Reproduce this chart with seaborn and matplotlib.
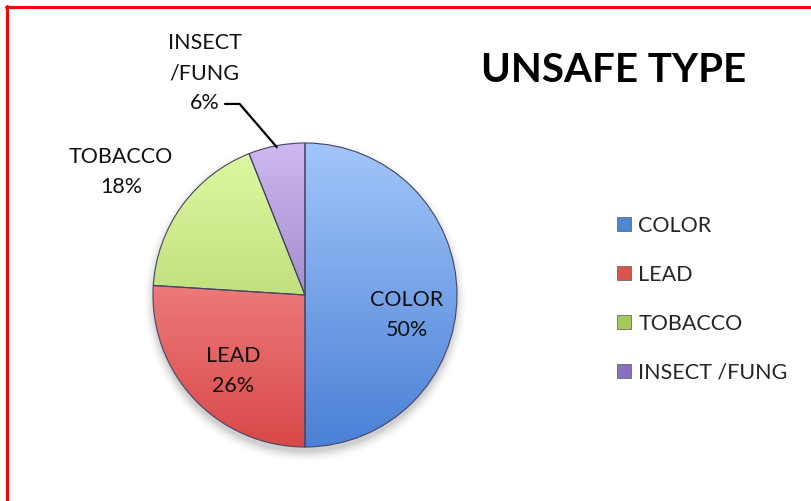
import numpy as np
import matplotlib
matplotlib.use("Agg")
import matplotlib.pyplot as plt
import matplotlib.colors as mcolors
from matplotlib.lines import Line2D
import seaborn as sns

# ---- data ----
categories = ["COLOR", "LEAD", "TOBACCO", "INSECT /FUNG"]
values = [50, 26, 18, 6]
slice_labels = ["COLOR\n50%", "LEAD\n26%", "TOBACCO\n18%", "INSECT\n/FUNG\n6%"]
title = "UNSAFE TYPE"

# ---- style ----
sns.set_theme(style="white")
plt.rcParams['font.family'] = ['Lato', 'DejaVu Sans']

top_colors = ["#a2c6fa", "#ffa6a6", "#e0f9a3", "#cdb8f0"]
bot_colors = ["#4a80d6", "#d84848", "#a3c758", "#7e63aa"]
legend_colors = ["#4f86d4", "#d9534f", "#a6c95c", "#8a6fbc"]

W, H = 811, 501
cx, cy, R = 305, 295, 152  # pixel geometry of the pie

fig = plt.figure(figsize=(W / 100, H / 100), dpi=100)
ax = fig.add_axes([0, 0, 1, 1])

# soft shadow
for i, a in enumerate(np.linspace(0.05, 0.012, 6)):
    sh = plt.Circle((0, -0.035), 1.0 + 0.012 * i, color="black", alpha=a, lw=0, zorder=0)
    ax.add_patch(sh)
ax.add_patch(plt.Circle((0, 0), 1.0, color="white", lw=0, zorder=0.5))

wedges, _ = ax.pie(values, startangle=90, counterclock=False, radius=1.0,
                   colors=legend_colors,
                   wedgeprops=dict(edgecolor="#444466", linewidth=0.8))

# gradient fills clipped to wedges
yy = np.linspace(1, -1, 300)[:, None] * np.ones((1, 2))
for w, tc, bc in zip(wedges, top_colors, bot_colors):
    cmap = mcolors.LinearSegmentedColormap.from_list("g", [tc, bc])
    im = ax.imshow((1 - yy) / 2, cmap=cmap, vmin=0, vmax=1, extent=[-1, 1, -1, 1],
                   aspect="auto", zorder=1.5, interpolation="bilinear")
    im.set_clip_path(w)
    w.set_facecolor("none")
    w.set_zorder(2)

ax.set_xlim((0 - cx) / R, (W - cx) / R)
ax.set_ylim((cy - H) / R, cy / R)
ax.set_aspect("auto")
ax.axis("off")

# slice labels (positions in pie-radius units)
label_pos = [(0.67, -0.13), (-0.47, -0.50), (-1.21, 0.81), (-0.66, 1.46)]
for (x, y), t in zip(label_pos, slice_labels):
    ax.text(x, y, t, ha="center", va="center", fontsize=15.5, color="#111111",
            linespacing=1.65, zorder=5)

# leader line for the small slice
ang = np.deg2rad(90 + values[3] / 2 / sum(values) * 360)
ex, ey = np.cos(ang), np.sin(ang)
ax.plot([-0.526, -0.43, ex * 0.99], [1.257, 1.257, ey * 0.99], color="black", lw=1.6, zorder=5)

# title
fig.text(614 / W, 1 - 70 / H, title, ha="center", va="center", fontsize=29,
         fontweight="bold", color="black")

# legend
handles = [Line2D([0], [0], marker="s", linestyle="none", markersize=10,
                  markerfacecolor=c, markeredgecolor="#555555", markeredgewidth=0.5)
           for c in legend_colors]
fig.legend(handles, categories, loc="upper left", bbox_to_anchor=(605 / W, 1 - 207 / H),
           frameon=False, fontsize=15.5, handletextpad=0.15, labelspacing=1.35,
           handlelength=1.0, borderaxespad=0)

# red border (top and left)
fig.add_artist(Line2D([6 / W, 1], [1 - 7 / H, 1 - 7 / H], color="red", lw=2.2))
fig.add_artist(Line2D([7 / W, 7 / W], [0, 1 - 6 / H], color="red", lw=2.2))

fig.savefig("out.png", dpi=100)
